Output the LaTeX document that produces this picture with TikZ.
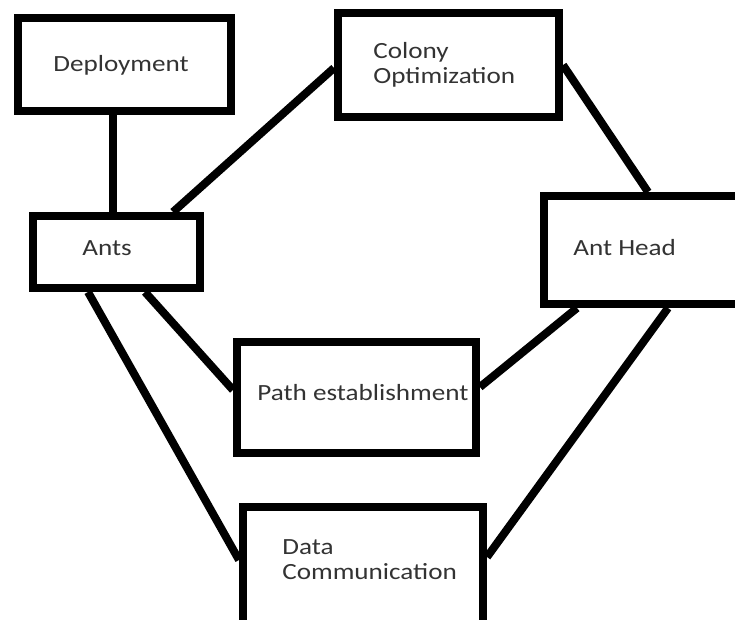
\documentclass[tikz,border=0pt]{standalone}
\usepackage{fontspec}
\setmainfont[FakeStretch=1.17]{Carlito}
\begin{document}
\begin{tikzpicture}[font=\fontsize{13.2pt}{14.2pt}\selectfont,
    blk/.style ={draw, line width=0.16cm, inner sep=0pt},
    lbl/.style ={anchor=west, inner sep=0pt, text=black!80, align=left},
    link/.style={line width=0.16cm},
  ]
  \useasboundingbox (0,0) rectangle (14.7,-12.38);
  \clip (0,0) rectangle (14.7,-12.38);

  % boxes
  \node[blk, minimum width=4.26cm, minimum height=1.86cm] (dep) at (2.49,-1.29) {};
  \node[blk, minimum width=4.42cm, minimum height=2.08cm] (colony) at (8.97,-1.30) {};
  \node[blk, minimum width=3.34cm, minimum height=1.44cm] (ants) at (2.33,-5.04) {};
  \node[blk, minimum width=3.94cm, minimum height=2.16cm] (head) at (12.85,-5.00) {};
  \node[blk, minimum width=4.78cm, minimum height=2.22cm] (path) at (7.13,-7.95) {};
  \node[blk, minimum width=4.80cm, minimum height=2.40cm] (data) at (7.26,-11.34) {};

  % texts
  \node[lbl] (depT) at (1.06,-1.30) {Deployment};
  \node[lbl] (colonyT) at (7.46,-1.29) {Colony\\Optimization};
  \node[lbl] (antsT) at (1.64,-4.96) {Ants};
  \node[lbl] (headT) at (11.46,-4.96) {Ant Head};
  \node[lbl] (pathT) at (5.14,-7.86) {Path establishment};
  \node[lbl] (dataT) at (5.64,-11.20) {Data\\Communication};

  % links
  \draw[link] ([xshift=-0.07cm]ants.north) -- ([xshift=-0.07cm]ants.north |- dep.south);
  \draw[link] ([xshift=1.13cm]ants.north) -- ([yshift=-0.06cm]colony.west);
  \draw[link] (colony.east) -- ([xshift=0.11cm]head.north);
  \draw[link] ([xshift=0.57cm]ants.south) -- ([yshift=0.15cm]path.west);
  \draw[link] ([xshift=-1.31cm]head.south) -- ([yshift=0.21cm]path.east);
  \draw[link] ([xshift=-0.57cm]ants.south) -- ([yshift=0.14cm]data.west);
  \draw[link] ([xshift=0.51cm]head.south) -- ([yshift=0.20cm]data.east);
\end{tikzpicture}
\end{document}
